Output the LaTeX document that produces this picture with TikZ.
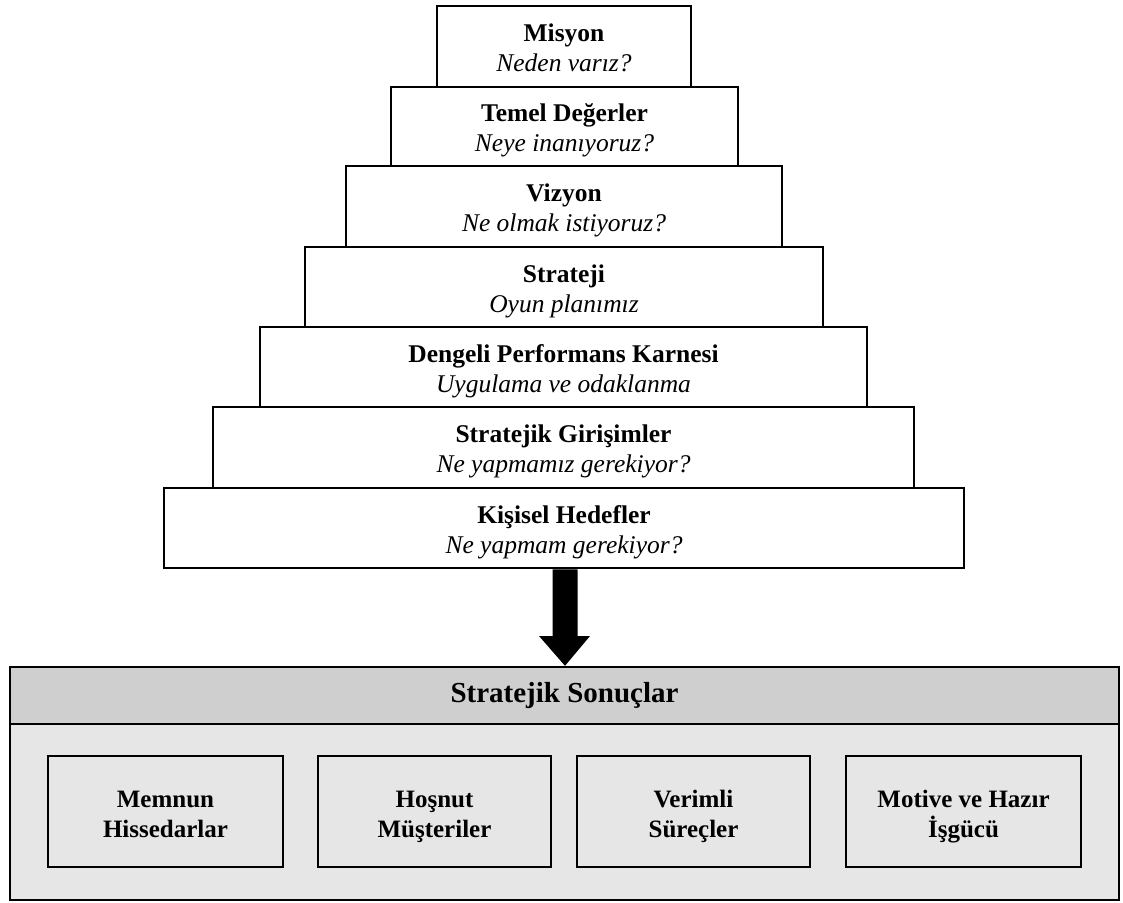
\documentclass[tikz,border=0pt]{standalone}
\usepackage{fontspec}
\setmainfont{Liberation Serif}
% a taller strut on the first line sets the text a little lower in its box
\newcommand{\firstline}[1]{\rule{0pt}{#1}}
\newcommand{\twolines}[2]{\firstline{29pt}\textbf{#1}\strut\\\textit{#2}\strut}
\begin{document}
\begin{tikzpicture}[x=1pt,y=-1pt,
  tier/.style={draw, line width=2.6pt, fill=white, inner sep=0pt, align=center,
    font=\fontsize{25.5}{30}\selectfont},
  result/.style={draw, line width=2.6pt, fill=boxbody, inner sep=0pt, align=center,
    minimum height=111pt, font=\fontsize{25}{30}\selectfont\bfseries},
]
\definecolor{boxhead}{HTML}{D0CFD0}
\definecolor{boxbody}{HTML}{E6E6E6}
\useasboundingbox (0,0) rectangle (1123,902);

% pyramid of tiers, drawn from the bottom up
\node[tier, minimum width=800pt, minimum height=80pt] (t7) at (564,528)
  {\twolines{Kişisel Hedefler}{Ne yapmam gerekiyor?}};
\node[tier, minimum width=701pt, minimum height=81pt] (t6) at (563.5,447.5)
  {\twolines{Stratejik Girişimler}{Ne yapmamız gerekiyor?}};
\node[tier, minimum width=607pt, minimum height=80pt] (t5) at (563.5,367)
  {\twolines{Dengeli Performans Karnesi}{Uygulama ve odaklanma}};
\node[tier, minimum width=518pt, minimum height=80pt] (t4) at (564,287)
  {\twolines{Strateji}{Oyun planımız}};
\node[tier, minimum width=436pt, minimum height=81pt] (t3) at (564,206.5)
  {\twolines{Vizyon}{Ne olmak istiyoruz?}};
\node[tier, minimum width=347pt, minimum height=79pt] (t2) at (564.5,126.5)
  {\twolines{Temel Değerler}{Neye inanıyoruz?}};
\node[tier, minimum width=254pt, minimum height=81pt] (t1) at (564,46.5)
  {\twolines{Misyon}{Neden varız?}};

% results panel
\node[draw, line width=2.4pt, fill=boxbody, minimum width=1109pt, minimum height=233pt,
  inner sep=0pt] (panel) at (564.5,783.5) {};
\node[draw, line width=2.4pt, fill=boxhead, minimum width=1109pt, minimum height=57pt,
  inner sep=0pt, font=\fontsize{29}{32}\selectfont\bfseries] (head) at (564.5,695.5)
  {Stratejik Sonuçlar};

\node[result, minimum width=235pt] (r1) at (165.5,811.5)
  {\firstline{31pt}Memnun\strut\\Hissedarlar\strut};
\node[result, minimum width=233pt] (r2) at (434.5,811.5)
  {\firstline{31pt}Hoşnut\strut\\Müşteriler\strut};
\node[result, minimum width=233pt] (r3) at (693.5,811.5)
  {\firstline{31pt}Verimli\strut\\Süreçler\strut};
\node[result, minimum width=235pt] (r4) at (963.5,811.5)
  {\firstline{31pt}Motive ve Hazır\strut\\\smash{İşgücü}\strut};

% thick block arrow from the last tier down to the header of the panel
\fill (t7.south -| 552.5,0) -- (t7.south -| 577.5,0) -- (577.5,636) -- (590,636)
  -- (head.north -| 565,0) -- (539,636) -- (552.5,636) -- cycle;
\end{tikzpicture}
\end{document}
